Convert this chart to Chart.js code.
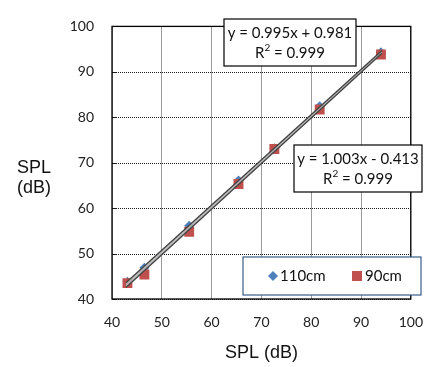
<!DOCTYPE html>
<html>
<head>
<meta charset="utf-8">
<script src="https://cdn.jsdelivr.net/npm/chart.js@4.4.1/dist/chart.umd.min.js"></script>
<style>
  html, body { margin: 0; padding: 0; background: #ffffff; }
  #wrap { position: relative; width: 438px; height: 367px; }
</style>
</head>
<body>
<div id="wrap"><canvas id="c" width="438" height="367"></canvas></div>
<script>
// ---- data ----
const seriesNames = ['110cm', '90cm'];
const x110 = [43.1, 46.5, 55.5, 65.4, 72.6, 81.7, 94.0];
const y110 = [43.8, 46.9, 56.1, 66.1, 73.2, 82.4, 94.3];
const x90  = [43.1, 46.5, 55.5, 65.4, 72.6, 81.7, 94.0];
const y90  = [43.5, 45.4, 54.8, 65.3, 73.0, 81.7, 93.8];
const trendSlopes = [0.995, 1.003];
const trendIntercepts = [0.981, -0.413];
const equationLabels = ['y = 0.995x + 0.981', 'y = 1.003x - 0.413'];
const r2Labels = ['0.999', '0.999'];
const axisTicks = [40, 50, 60, 70, 80, 90, 100];
const axisTitle = 'SPL (dB)';

const pts = (xs, ys) => xs.map((x, i) => ({ x: x, y: ys[i] }));
const trend = (xs, k) => {
  const lo = Math.min(...xs) - 0.3, hi = Math.max(...xs) + 0.2;
  return [lo, hi].map(x => ({ x: x, y: trendSlopes[k] * x + trendIntercepts[k] }));
};

const BLUE = '#4F81BD', RED = '#C0504D';

const dottedGrid = {
  id: 'dottedGrid',
  beforeDatasetsDraw(chart) {
    const ctx = chart.ctx, a = chart.chartArea, ys = chart.scales.y;
    ctx.save();
    ctx.strokeStyle = '#1a1a1a';
    ctx.lineWidth = 1;
    axisTicks.forEach(v => {
      const py = Math.round(ys.getPixelForValue(v)) + 0.5;
      ctx.setLineDash([1, 1]);
      ctx.beginPath();
      ctx.moveTo(a.left, py);
      ctx.lineTo(a.right, py);
      ctx.stroke();
      ctx.setLineDash([]);
      ctx.beginPath();
      ctx.moveTo(a.left, py);
      ctx.lineTo(a.left + 5, py);
      ctx.stroke();
    });
    ctx.restore();
  }
};

const overlay = {
  id: 'overlay',
  afterDraw(chart) {
    const ctx = chart.ctx, a = chart.chartArea;
    ctx.save();
    // plot border
    ctx.strokeStyle = '#000';
    ctx.lineWidth = 1.3;
    ctx.strokeRect(a.left, a.top, a.right - a.left, a.bottom - a.top);

    // axis titles
    ctx.fillStyle = '#111';
    ctx.font = '18px "Liberation Sans", Arial, sans-serif';
    ctx.textAlign = 'center';
    ctx.textBaseline = 'middle';
    ctx.fillText(axisTitle, (a.left + a.right) / 2, 353);
    const parts = axisTitle.split(' ');
    ctx.fillText(parts[0], 34, 168);
    ctx.fillText(parts[1], 34, 188);

    // equation boxes
    const boxes = [
      { x: 224, y: 19, w: 132, h: 47 },
      { x: 294, y: 145, w: 128, h: 47 }
    ];
    boxes.forEach((b, k) => {
      ctx.fillStyle = '#fff';
      ctx.fillRect(b.x, b.y, b.w, b.h);
      ctx.strokeStyle = '#000';
      ctx.lineWidth = 1.2;
      ctx.strokeRect(b.x, b.y, b.w, b.h);
      ctx.fillStyle = '#111';
      ctx.font = '15px Lato, sans-serif';
      ctx.textAlign = 'center';
      ctx.textBaseline = 'middle';
      const cx = b.x + b.w / 2;
      ctx.fillText(equationLabels[k], cx, b.y + 14);
      // R² line
      const s1 = 'R', s3 = ' = ' + r2Labels[k];
      ctx.font = '15px Lato, sans-serif';
      const w1 = ctx.measureText(s1).width, w3 = ctx.measureText(s3).width;
      ctx.font = '10px Lato, sans-serif';
      const w2 = ctx.measureText('2').width;
      let sx = cx - (w1 + w2 + w3) / 2;
      const ly = b.y + 34;
      ctx.textAlign = 'left';
      ctx.font = '15px Lato, sans-serif';
      ctx.fillText(s1, sx, ly);
      ctx.font = '10px Lato, sans-serif';
      ctx.fillText('2', sx + w1, ly - 5);
      ctx.font = '15px Lato, sans-serif';
      ctx.fillText(s3, sx + w1 + w2, ly);
    });

    // legend
    const L = { x: 243, y: 257, w: 178, h: 38 };
    ctx.fillStyle = '#fff';
    ctx.fillRect(L.x, L.y, L.w, L.h);
    ctx.strokeStyle = '#385D8A';
    ctx.lineWidth = 1.2;
    ctx.strokeRect(L.x, L.y, L.w, L.h);
    const my = L.y + L.h / 2;
    ctx.fillStyle = BLUE;
    ctx.beginPath();
    ctx.moveTo(273, my - 5); ctx.lineTo(278, my); ctx.lineTo(273, my + 5); ctx.lineTo(268, my);
    ctx.closePath(); ctx.fill();
    ctx.fillStyle = RED;
    ctx.fillRect(352, my - 5, 10, 10);
    ctx.fillStyle = '#111';
    ctx.font = '15px Lato, sans-serif';
    ctx.textAlign = 'left';
    ctx.textBaseline = 'middle';
    ctx.fillText(seriesNames[0], 280, my);
    ctx.fillText(seriesNames[1], 365, my);
    ctx.restore();
  }
};

const tickFont = { family: 'Lato, sans-serif', size: 14 };

new Chart(document.getElementById('c'), {
  type: 'scatter',
  data: {
    datasets: [
      {
        label: seriesNames[0] + ' trend',
        data: trend(x110, 0),
        showLine: true, pointRadius: 0,
        borderColor: '#444', borderWidth: 1.4,
        fill: false, order: 0
      },
      {
        label: seriesNames[1] + ' trend',
        data: trend(x90, 1),
        showLine: true, pointRadius: 0,
        borderColor: '#444', borderWidth: 1.4,
        fill: 0, backgroundColor: 'rgba(185,185,185,0.9)', order: 0
      },
      {
        label: seriesNames[1],
        data: pts(x90, y90),
        pointStyle: 'rect', pointRadius: 7, pointHoverRadius: 7,
        backgroundColor: RED, borderColor: RED, borderWidth: 0, order: 1
      },
      {
        label: seriesNames[0],
        data: pts(x110, y110),
        pointStyle: 'rectRot', pointRadius: 5, pointHoverRadius: 5,
        backgroundColor: BLUE, borderColor: BLUE, borderWidth: 0, order: 2
      }
    ]
  },
  options: {
    responsive: false,
    animation: false,
    layout: { padding: { top: 13, right: 14, left: 0, bottom: 0 } },
    plugins: { legend: { display: false }, tooltip: { enabled: false } },
    scales: {
      x: {
        type: 'linear', min: axisTicks[0], max: axisTicks[axisTicks.length - 1],
        afterBuildTicks: s => { s.ticks = axisTicks.map(v => ({ value: v })); },
        afterFit: s => { s.height = 68; },
        grid: { color: '#9a9a9a', lineWidth: 1, drawTicks: false },
        border: { display: false },
        ticks: { font: tickFont, color: '#222', padding: 15, maxRotation: 0 }
      },
      y: {
        type: 'linear', min: axisTicks[0], max: axisTicks[axisTicks.length - 1],
        afterBuildTicks: s => { s.ticks = axisTicks.map(v => ({ value: v })); },
        afterFit: s => { s.width = 112; },
        grid: { display: false, drawTicks: false },
        border: { display: false },
        ticks: { font: tickFont, color: '#222', padding: 18 }
      }
    }
  },
  plugins: [dottedGrid, overlay]
});
</script>
</body>
</html>
